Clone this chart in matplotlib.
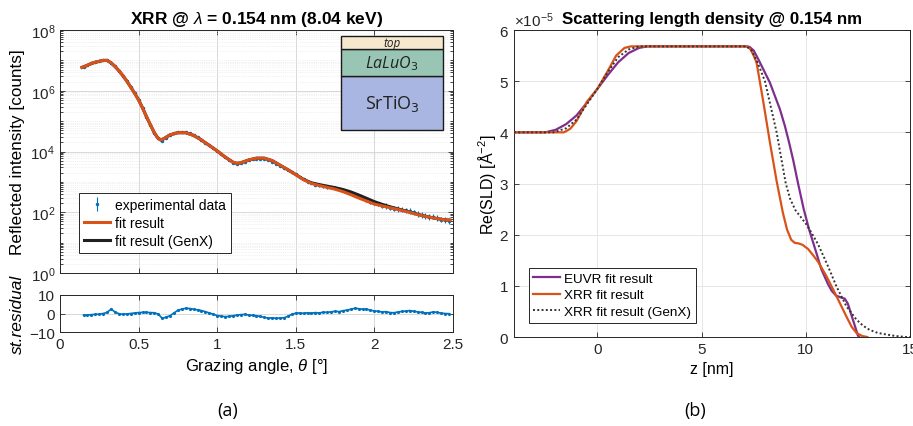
import numpy as np
import matplotlib
matplotlib.use("Agg")
import matplotlib.pyplot as plt
from matplotlib.ticker import FixedLocator, LogLocator, NullFormatter, FuncFormatter, ScalarFormatter
from matplotlib.patches import Rectangle

plt.rcParams['font.family'] = ['Liberation Sans', 'DejaVu Sans']
plt.rcParams['mathtext.fontset'] = 'custom'
plt.rcParams['mathtext.rm'] = 'Liberation Sans'
plt.rcParams['mathtext.it'] = 'Liberation Sans:italic'

# ---------------- data: XRR (panel a) ----------------
fit_theta = [0.14, 0.175, 0.20, 0.225, 0.25, 0.275, 0.30, 0.325, 0.35, 0.375, 0.40, 0.425, 0.45, 0.475,
             0.50, 0.525, 0.55, 0.575, 0.60, 0.62, 0.64, 0.66, 0.70, 0.75, 0.80, 0.85, 0.90, 0.95,
             1.00, 1.05, 1.10, 1.125, 1.15, 1.20, 1.25, 1.30, 1.35, 1.40, 1.45, 1.50, 1.55, 1.60,
             1.65, 1.70, 1.75, 1.80, 1.85, 1.90, 1.95, 2.00, 2.05, 2.10, 2.15, 2.20, 2.25, 2.30,
             2.35, 2.40, 2.45, 2.48]
fit_log = [6.77, 6.84, 6.90, 6.94, 6.97, 7.00, 7.00, 6.92, 6.80, 6.66, 6.50, 6.32, 6.12, 5.92,
           5.70, 5.44, 5.15, 4.88, 4.62, 4.46, 4.38, 4.42, 4.55, 4.62, 4.62, 4.53, 4.38, 4.20,
           4.02, 3.82, 3.65, 3.61, 3.63, 3.72, 3.78, 3.78, 3.70, 3.55, 3.40, 3.24, 3.07, 2.95,
           2.88, 2.82, 2.76, 2.68, 2.58, 2.47, 2.37, 2.27, 2.21, 2.15, 2.09, 2.03, 1.96, 1.89,
           1.84, 1.79, 1.75, 1.74]
genx_log = [6.77, 6.84, 6.90, 6.94, 6.97, 7.00, 7.00, 6.92, 6.80, 6.66, 6.50, 6.32, 6.12, 5.92,
            5.70, 5.44, 5.15, 4.88, 4.62, 4.46, 4.38, 4.42, 4.55, 4.62, 4.62, 4.53, 4.38, 4.20,
            4.02, 3.82, 3.65, 3.61, 3.63, 3.72, 3.78, 3.78, 3.70, 3.55, 3.40, 3.24, 3.08, 2.97,
            2.91, 2.86, 2.81, 2.75, 2.67, 2.57, 2.46, 2.35, 2.26, 2.18, 2.11, 2.04, 1.97, 1.90,
            1.84, 1.79, 1.75, 1.74]

exp_log = [6.78, 6.84, 6.90, 6.94, 6.97, 7.00, 7.00, 6.93, 6.80, 6.66, 6.50, 6.32, 6.12, 5.92,
           5.70, 5.44, 5.15, 4.88, 4.62, 4.44, 4.35, 4.46, 4.55, 4.61, 4.63, 4.65, 4.64, 4.60,
           4.55, 4.47, 4.39, 4.29, 4.20, 4.11, 4.01, 3.91, 3.81, 3.71, 3.63, 3.60, 3.62, 3.67,
           3.71, 3.75, 3.77, 3.77, 3.76, 3.72, 3.66, 3.60, 3.53, 3.45, 3.39, 3.32, 3.25, 3.17,
           3.09, 3.01, 2.96, 2.90, 2.89, 2.87, 2.84, 2.82, 2.79, 2.76, 2.72, 2.67, 2.63, 2.58,
           2.53, 2.46, 2.41, 2.33, 2.30, 2.26, 2.22, 2.20, 2.15, 2.12, 2.11, 2.09, 2.06, 2.04,
           2.00, 1.95, 1.91, 1.87, 1.84, 1.86, 1.81, 1.76, 1.74, 1.72]
exp_err = [0.01] * 40 + [0.03] * 20 + [0.06] * 16 + [0.09] * 18

residual = [-0.9, -0.8, -0.6, -0.5, -0.3, 0.0, 0.6, 2.4, 0.8, -0.1, -0.4, -0.2, 0.0, 0.3,
            0.5, 0.6, 0.6, 0.5, 0.4, -0.3, -2.6, -2.0, -1.2, 0.3, 1.7, 2.4, 2.8, 2.7,
            2.3, 2.0, 1.6, 1.0, 0.3, -0.4, -1.1, -1.4, -1.7, -1.6, -1.2, -0.9, -0.6, -0.5,
            -0.8, -1.0, -1.2, -1.6, -2.1, -2.5, -2.3, -2.6, -2.4, -2.3, -1.5, -0.4, 0.2, 0.3,
            0.1, 0.4, 0.2, 0.5, 0.3, 0.7, 0.6, 0.9, 1.2, 1.0, 1.5, 1.8, 2.3, 2.8, 2.6, 2.3,
            2.4, 1.8, 1.4, 1.2, 0.8, 1.0, 0.5, 0.4, 0.8, 1.1, 1.3, 1.6, 1.2, 0.9, 0.6, 0.3,
            0.4, 0.9, 0.6, 0.2, 0.0, -0.1]
theta_grid = np.linspace(0.15, 2.475, len(residual))

# ---------------- data: SLD (panel b), units of 1e-5 A^-2 ----------------
euvr_z = [-4.0, -2.5, -2.0, -1.5, -1.0, -0.5, 0.0, 0.5, 1.0, 1.5, 2.0, 2.4, 2.8, 7.1, 7.3, 7.5,
          7.72, 8.0, 8.28, 8.5, 8.76, 9.0, 9.2, 9.4, 9.63, 9.9, 10.16, 10.45, 10.75, 11.07, 11.25,
          11.45, 11.7, 11.87, 12.02, 12.26, 12.5, 12.56]
euvr_v = [4.0, 4.0, 4.05, 4.16, 4.33, 4.58, 4.85, 5.12, 5.37, 5.55, 5.65, 5.68, 5.68, 5.68, 5.67, 5.6,
          5.43, 5.2, 4.97, 4.73, 4.45, 4.12, 3.8, 3.45, 3.0, 2.5, 2.1, 1.72, 1.32, 1.03, 0.9,
          0.81, 0.77, 0.75, 0.65, 0.34, 0.03, 0.0]
xrr_z = [-4.0, -1.6, -1.3, -1.0, -0.5, 0.0, 0.5, 0.9, 1.3, 1.6, 2.0, 7.2, 7.35, 7.5, 7.64, 7.96,
         8.28, 8.6, 8.9, 9.1, 9.3, 9.47, 9.65, 9.85, 10.11, 10.35, 10.59, 10.99, 11.47, 11.95,
         12.2, 12.43, 12.7, 12.95]
xrr_v = [4.0, 4.0, 4.07, 4.22, 4.6, 4.85, 5.2, 5.5, 5.65, 5.68, 5.68, 5.68, 5.62, 5.5, 5.36, 4.6,
         3.8, 3.05, 2.43, 2.1, 1.9, 1.84, 1.83, 1.8, 1.72, 1.6, 1.47, 1.19, 0.8, 0.4,
         0.2, 0.08, 0.02, 0.0]
genx_z = [-4.0, -2.1, -1.5, -1.0, -0.5, 0.0, 0.5, 1.0, 1.5, 2.0, 7.15, 7.4, 7.7, 8.04, 8.6, 9.04,
          9.25, 9.5, 9.75, 10.03, 10.3, 10.59, 10.85, 11.07, 11.47, 11.95, 12.43, 12.75, 13.06,
          13.45, 13.86, 14.3, 14.82, 15.0]
genx_v = [4.0, 4.0, 4.08, 4.25, 4.55, 4.85, 5.18, 5.47, 5.62, 5.68, 5.68, 5.6, 5.35, 5.0, 4.0, 3.0,
          2.7, 2.48, 2.35, 2.2, 2.02, 1.81, 1.58, 1.38, 0.99, 0.6, 0.34, 0.22, 0.14,
          0.08, 0.05, 0.02, 0.0, 0.0]

C_BLUE = '#0072BD'
C_RED = '#D95319'
C_PURP = '#7E2F8E'
C_BLK = '#202020'
GRIDC = '#d8d8d8'

fig = plt.figure(figsize=(9.13, 4.27), dpi=100)

ax = fig.add_axes([0.0657, 0.3583, 0.4304, 0.569])
axr = fig.add_axes([0.0657, 0.2201, 0.4304, 0.0867])
ax2 = fig.add_axes([0.563, 0.2084, 0.4337, 0.719])

def style(a):
    a.tick_params(direction='in', which='both', top=True, right=True, labelsize=11,
                  colors='#262626', width=0.6)
    for s in a.spines.values():
        s.set_color('#262626')
        s.set_linewidth(0.7)

# ---- panel a main ----
exp_vals = 10 ** np.array(exp_log)
e_lo = exp_vals - 10 ** (np.array(exp_log) - np.array(exp_err))
e_hi = 10 ** (np.array(exp_log) + np.array(exp_err)) - exp_vals
ax.errorbar(theta_grid, exp_vals, yerr=[e_lo, e_hi], fmt='.', color=C_BLUE, ms=3,
            elinewidth=0.8, capsize=0, zorder=2, label='experimental data')
ax.plot(fit_theta, 10 ** np.array(genx_log), color=C_BLK, lw=2.2, zorder=3, label='fit result (GenX)')
ax.plot(fit_theta, 10 ** np.array(fit_log), color=C_RED, lw=2.2, zorder=4, label='fit result')
ax.set_yscale('log')
ax.set_xlim(0, 2.5)
ax.set_ylim(1, 1e8)
ax.yaxis.set_major_locator(FixedLocator([1, 1e2, 1e4, 1e6, 1e8]))
ax.yaxis.set_minor_locator(LogLocator(base=10, subs=np.arange(1, 10), numticks=30))
ax.yaxis.set_minor_formatter(NullFormatter())
ax.set_xticks([0, 0.5, 1, 1.5, 2, 2.5])
ax.set_xticklabels([])
ax.grid(True, which='major', color=GRIDC, lw=0.7)
ax.grid(True, which='minor', axis='y', color='#e4e4e4', lw=0.5, ls=':')
style(ax)
ax.set_ylabel('Reflected intensity [counts]', fontsize=12.3)
ax.yaxis.set_label_coords(-0.088, 0.5)
ax.set_title(r'XRR @ $\lambda$ = 0.154 nm (8.04 keV)', fontsize=12.5, fontweight='bold', pad=5)
handles, labels = ax.get_legend_handles_labels()
order = [labels.index('experimental data'), labels.index('fit result'), labels.index('fit result (GenX)')]
leg = ax.legend([handles[i] for i in order], [labels[i] for i in order], loc='lower left',
                bbox_to_anchor=(0.03, 0.055), fontsize=10, fancybox=False, framealpha=1,
                edgecolor='#262626', handlelength=1.9, handletextpad=0.35, borderpad=0.35,
                labelspacing=0.3)
leg.get_frame().set_linewidth(0.7)

# layer stack inset
layers = [(0.59, 0.81, '#AAB6E2', 'SrTiO$_3$', 13, 'normal'),
          (0.81, 0.922, '#98C5B4', 'LaLuO$_3$', 11.5, 'italic'),
          (0.922, 0.977, '#F6E8CC', 'top', 8.5, 'italic')]
for y0, y1, col, txt, fs, st in layers:
    ax.add_patch(Rectangle((0.715, y0), 0.26, y1 - y0, transform=ax.transAxes,
                           facecolor=col, edgecolor='#1a1a1a', lw=1.0, zorder=6))
    ax.text(0.845, (y0 + y1) / 2, txt, transform=ax.transAxes, ha='center', va='center',
            fontsize=fs, family='Open Sans', style=st, zorder=7, color='#222222',
            math_fontfamily='dejavusans')

# ---- residual ----
axr.plot(theta_grid, residual, '.-', color=C_BLUE, lw=1.2, ms=2.5)
axr.set_xlim(0, 2.5)
axr.set_ylim(-10, 10)
axr.set_yticks([-10, 0, 10])
axr.set_xticks([0, 0.5, 1, 1.5, 2, 2.5])
axr.xaxis.set_major_formatter(FuncFormatter(lambda v, p: '%g' % v))
axr.grid(True, color=GRIDC, lw=0.7)
style(axr)
axr.set_ylabel('st.residual', fontsize=12.5, style='italic')
axr.yaxis.set_label_coords(-0.088, 0.5)
axr.set_xlabel(r'Grazing angle, $\theta$ [°]', fontsize=12, labelpad=4)

# ---- panel b ----
sc = 1e-5
ax2.plot(euvr_z, np.array(euvr_v) * sc, color=C_PURP, lw=1.6, label='EUVR fit result', zorder=3)
ax2.plot(xrr_z, np.array(xrr_v) * sc, color=C_RED, lw=1.6, label='XRR fit result', zorder=4)
ax2.plot(genx_z, np.array(genx_v) * sc, color='#333333', lw=1.4, ls=(0, (1, 1.2)),
         label='XRR fit result (GenX)', zorder=5)
ax2.set_xlim(-4, 15)
ax2.set_ylim(0, 6e-5)
ax2.set_xticks([0, 5, 10, 15])
ax2.set_yticks(np.arange(0, 7) * 1e-5)
fmt = ScalarFormatter(useMathText=True)
fmt.set_powerlimits((-3, 3))
ax2.yaxis.set_major_formatter(fmt)
ax2.grid(True, color='#e6e6e6', lw=0.7)
style(ax2)
ax2.yaxis.get_offset_text().set_fontsize(11)
ax2.set_ylabel('Re(SLD) [Å$^{-2}$]', fontsize=11.5)
ax2.yaxis.set_label_coords(-0.04, 0.5)
ax2.set_xlabel('z [nm]', fontsize=11.5, labelpad=4)
ax2.set_title('Scattering length density @ 0.154 nm', fontsize=12.2, fontweight='bold', pad=5)
leg2 = ax2.legend(loc='lower left', bbox_to_anchor=(0.02, 0.025), fontsize=9.7, fancybox=False,
                  framealpha=1, edgecolor='#262626', handlelength=2.0, handletextpad=0.3,
                  borderpad=0.35, labelspacing=0.3)
leg2.get_frame().set_linewidth(0.7)

fig.text(0.2497, 0.038, '(a)', ha='center', va='center', fontsize=13, family='Open Sans')
fig.text(0.761, 0.038, '(b)', ha='center', va='center', fontsize=13, family='Open Sans')

fig.savefig('out.png', dpi=100)
